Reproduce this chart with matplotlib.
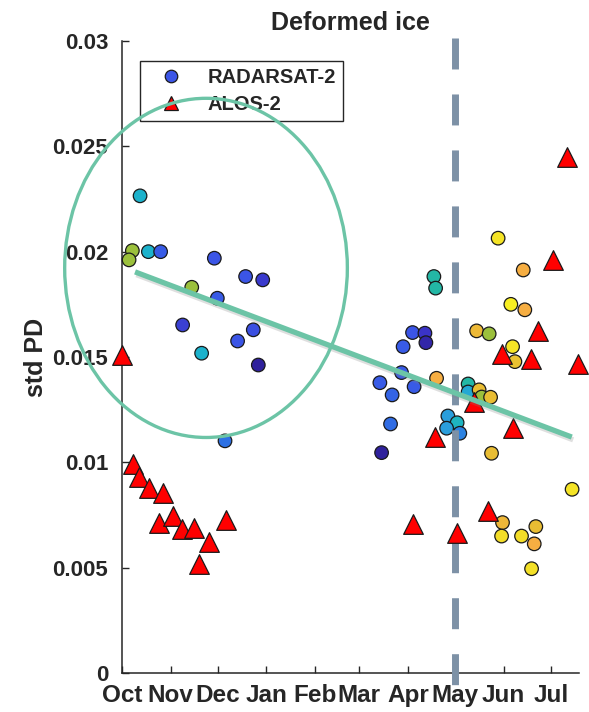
import matplotlib
matplotlib.use("Agg")
import matplotlib.pyplot as plt
from matplotlib.colors import LinearSegmentedColormap
from matplotlib.lines import Line2D
from matplotlib.patches import Ellipse
import matplotlib.patheffects as pe

plt.rcParams['font.family'] = ['Liberation Sans', 'DejaVu Sans']
plt.rcParams['font.weight'] = 'bold'

# ---- data (x = days since 1 October) ----
months = ['Oct', 'Nov', 'Dec', 'Jan', 'Feb', 'Mar', 'Apr', 'May', 'Jun', 'Jul']
month_start = [0, 31, 61, 92, 123, 151, 182, 212, 243, 273]

rs2_day = [11.5, 6.6, 4.5, 16.8, 24.6, 58.8, 78.7, 89.6, 44.4, 60.7, 38.6, 83.6,
           73.6, 50.7, 86.8, 65.6, 198.6, 199.7, 185.0, 192.9, 193.5, 179.0,
           178.0, 164.2, 186.0, 200.3, 172.0, 171.0, 165.3, 207.5, 213.4, 206.7,
           215.1, 220.4, 220.4, 227.4, 229.0, 234.7, 239.5, 255.5, 247.6, 256.5,
           225.8, 233.8, 248.7, 250.2, 235.3, 286.6, 242.3, 241.7, 254.4, 263.5,
           262.5, 260.8]
rs2_std = [0.02265, 0.02005, 0.01961, 0.0200, 0.0200, 0.01969, 0.01882, 0.01866,
           0.01831, 0.01779, 0.01652, 0.01629, 0.01576, 0.01518, 0.01462, 0.01102,
           0.01882, 0.01827, 0.01616, 0.01613, 0.01568, 0.01549, 0.01426, 0.01378,
           0.01359, 0.01399, 0.01320, 0.01182, 0.01046, 0.01220, 0.01188, 0.01162,
           0.01138, 0.01372, 0.01334, 0.01344, 0.01310, 0.01309, 0.02064, 0.01913,
           0.01750, 0.01724, 0.01624, 0.01610, 0.01549, 0.01478, 0.01043, 0.00872,
           0.00714, 0.00650, 0.00650, 0.00695, 0.00613, 0.00495]
rs2_cval = [0.46, 0.65, 0.65, 0.46, 0.22, 0.20, 0.20, 0.12, 0.65, 0.22, 0.14, 0.18,
            0.20, 0.46, 0.03, 0.30, 0.52, 0.52, 0.20, 0.10, 0.05, 0.22, 0.22, 0.22,
            0.22, 0.80, 0.25, 0.28, 0.03, 0.38, 0.48, 0.38, 0.33, 0.52, 0.42, 0.87,
            0.65, 0.87, 0.97, 0.80, 1.00, 0.80, 0.85, 0.65, 0.97, 0.88, 0.87, 0.97,
            0.84, 0.95, 0.95, 0.87, 0.80, 0.96]

alos_day = [0.0, 7.2, 11.0, 17.4, 26.3, 23.8, 32.3, 38.0, 45.8, 55.6, 49.0, 66.2,
            274.6, 264.6, 241.7, 260.3, 290.5, 224.3, 283.5, 199.2, 248.7, 233.2,
            185.4, 213.4]
alos_std = [0.0151, 0.00992, 0.00932, 0.00877, 0.00855, 0.00712, 0.00745, 0.00685,
            0.0069, 0.00622, 0.00518, 0.00725, 0.01962, 0.01624, 0.01513, 0.01492,
            0.01466, 0.01285, 0.02447, 0.01122, 0.01163, 0.00769, 0.00709, 0.00663]

# annotation overlays
trend_x = [8.3, 286.4]
trend_y = [0.01904, 0.0112]
ellipse_center = (53.5, 0.01923)
ellipse_w = 180
ellipse_h = 0.0161
may_line_x = 212
yticks = [0, 0.005, 0.01, 0.015, 0.02, 0.025, 0.03]
ytick_labels = ['0', '0.005', '0.01', '0.015', '0.02', '0.025', '0.03']

cmap = LinearSegmentedColormap.from_list('parulaish', [
    (0.0, '#2b1a8c'), (0.1, '#3a34c8'), (0.2, '#3b55e6'), (0.3, '#2d72e4'),
    (0.38, '#2a9edc'), (0.46, '#1cb2cc'), (0.52, '#22b7a6'), (0.65, '#9ac03c'),
    (0.8, '#f6ae42'), (0.87, '#e9bd33'), (1.0, '#f8ef22')])

fig = plt.figure(figsize=(5.89, 7.12), dpi=100)
ax = fig.add_axes([122/589, 1-673/712, 457/589, 632/712])

ax.scatter(rs2_day, rs2_std, c=rs2_cval, cmap=cmap, vmin=0, vmax=1, s=95,
           edgecolors='#1a1a1a', linewidths=0.9, zorder=3, clip_on=False)
ax.plot([may_line_x, may_line_x], [0.03015, -0.00057], color='#7d91a6', lw=5,
        dashes=(4.46, 3.6), dash_capstyle='butt', zorder=4, clip_on=False)
ax.scatter(alos_day, alos_std, marker='^', c='#ff0000', s=200,
           edgecolors='#1a1a1a', linewidths=0.9, zorder=5, clip_on=False)

ax.set_xlim(0, 291)
ax.set_ylim(0, 0.03)
ax.set_xticks(month_start)
ax.set_xticklabels(months)
ax.set_yticks(yticks)
ax.set_yticklabels(ytick_labels)
ax.tick_params(direction='in', length=5, width=1, colors='#262626',
               labelsize=16)
ax.tick_params(axis='y', pad=10)
ax.tick_params(axis='x', pad=8, labelsize=17.5)
for side in ['top', 'right']:
    ax.spines[side].set_visible(False)
for side in ['left', 'bottom']:
    ax.spines[side].set_color('#262626')
    ax.spines[side].set_linewidth(1.1)

ax.set_ylabel('std PD', fontsize=18, fontweight='bold', color='#262626', labelpad=3)
ax.set_title('Deformed ice', fontsize=18, fontweight='bold', color='#262626', pad=8)

handles = [Line2D([], [], marker='o', ls='none', markersize=9, markerfacecolor='#3b55e6',
                  markeredgecolor='#1a1a1a', markeredgewidth=0.9),
           Line2D([], [], marker='^', ls='none', markersize=10, markerfacecolor='#ff0000',
                  markeredgecolor='#1a1a1a', markeredgewidth=0.9)]
leg = ax.legend(handles, ['RADARSAT-2', 'ALOS-2'], loc='upper left',
                bbox_to_anchor=(0.0394, 0.968), fontsize=14.5, frameon=True,
                fancybox=False, framealpha=1, edgecolor='#262626',
                handletextpad=0.6, labelspacing=0.38, borderpad=0.35,
                borderaxespad=0, handlelength=2.4)
leg.get_frame().set_linewidth(1.0)
leg.set_zorder(7)
for t in leg.get_texts():
    t.set_color('#262626')

green = '#6cc4a6'
ax.plot(trend_x, trend_y, color=green, lw=3.8, solid_capstyle='butt', zorder=10,
        clip_on=False,
        path_effects=[pe.SimpleLineShadow(offset=(1, -2), shadow_color='gray', alpha=0.25),
                      pe.Normal()])
ell = Ellipse(ellipse_center, ellipse_w, ellipse_h, fill=False, edgecolor=green,
              lw=2.4, zorder=10, clip_on=False)
ax.add_patch(ell)

fig.savefig('out.png', dpi=100)
